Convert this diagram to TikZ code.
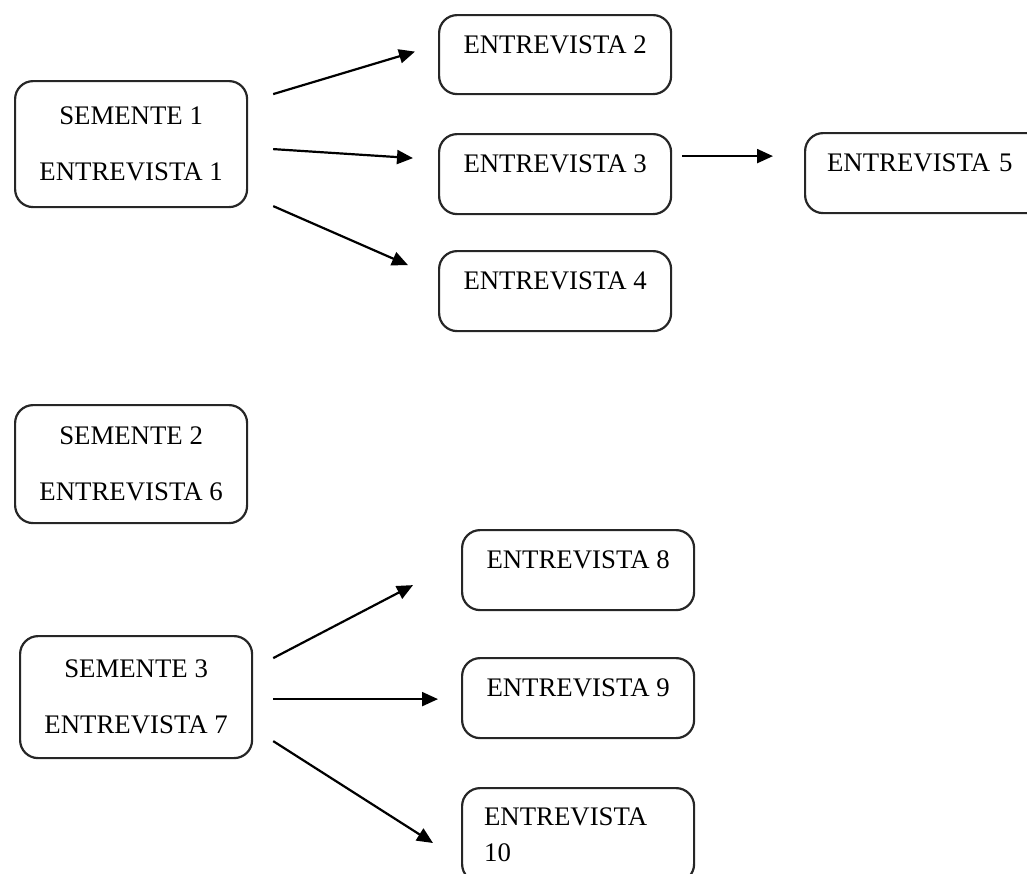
\documentclass[tikz,border=0pt]{standalone}
\usepackage{fontspec}
\setmainfont{Liberation Serif}
\usetikzlibrary{arrows.meta,calc}

\tikzset{
  caixa/.style = {draw=black!85, line width=1.1pt, rounded corners=9pt,
                  anchor=north west, minimum width=116pt, inner sep=0pt},
  semente/.style = {caixa, align=center, font=\fontsize{13.4pt}{28pt}\selectfont},
  entrevista/.style = {caixa, font=\fontsize{13.4pt}{16pt}\selectfont,
                       text height=19pt, text depth=21pt},
  seta/.style = {-{Triangle[length=8pt,width=7pt]}, line width=1.1pt}
}

\begin{document}
\begin{tikzpicture}[x=0.5pt, y=-0.5pt]
  \useasboundingbox (0,0) rectangle (1027,873);

  % primeira semente
  \node[semente, minimum height=63pt] (s1) at (14,80) {SEMENTE 1\\ENTREVISTA 1};
  \node[entrevista, text depth=20.5pt] (e2) at (438,14) {ENTREVISTA 2};
  \node[entrevista] (e3) at (438,133) {ENTREVISTA 3};
  \node[entrevista] (e4) at (438,250) {ENTREVISTA 4};
  \node[entrevista, align=left, text width=103pt, inner xsep=11pt] (e5) at (804,132) {ENTREVISTA 5};

  % segunda e terceira sementes
  \node[semente, minimum height=59pt] (s2) at (14,404) {SEMENTE 2\\ENTREVISTA 6};
  \node[semente, minimum height=61pt] (s3) at (19,635) {SEMENTE 3\\ENTREVISTA 7};
  \node[entrevista] (e8) at (461,529) {ENTREVISTA 8};
  \node[entrevista] (e9) at (461,657) {ENTREVISTA 9};
  \node[caixa, align=left, text width=94pt, inner xsep=11pt, inner ysep=10pt,
        font=\fontsize{13.4pt}{18pt}\selectfont] (e10) at (461,787) {ENTREVISTA\\10};

  \draw[seta] ($(s1.east)+(25,-50)$) -- ($(e2.west)+(-23,-3)$);
  \draw[seta] ($(s1.east)+(25,5)$) -- ($(e3.west)+(-25,-16)$);
  \draw[seta] ($(s1.east)+(25,62)$) -- ($(e4.west)+(-30,-26)$);
  \draw[seta] ($(e3.east)+(10,-18)$) -- ($(e5.west)+(-31,-17)$);

  \draw[seta] ($(s3.east)+(20,-39)$) -- ($(e8.west)+(-48,15)$);
  \draw[seta] ($(s3.east)+(20,2)$) -- ($(e9.west)+(-23,1)$);
  \draw[seta] ($(s3.east)+(20,44)$) -- ($(e10.north west)+(-28,56)$);
\end{tikzpicture}
\end{document}
